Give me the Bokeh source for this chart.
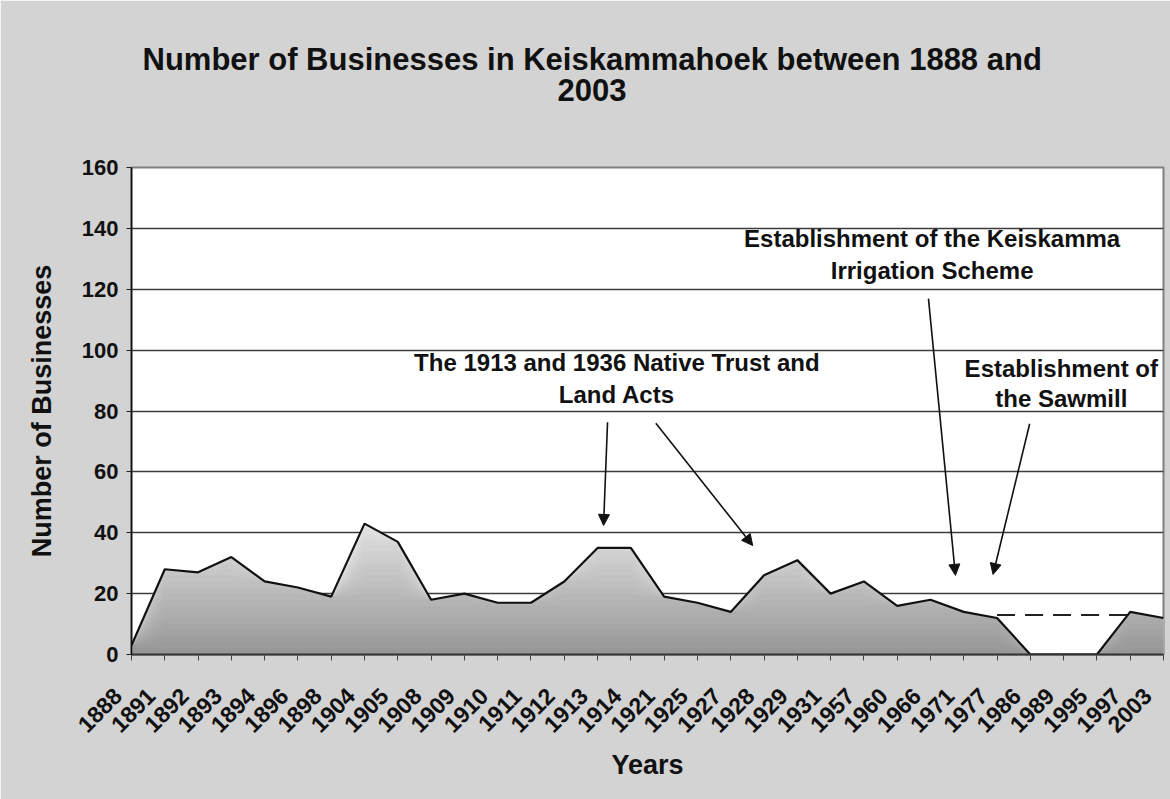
import numpy as np
from math import pi
from bokeh.plotting import figure
from bokeh.models import Range1d, FixedTicker, Label, Arrow, NormalHead, Title
from bokeh.embed import file_html
from bokeh.resources import INLINE

# ---- data ----
years = ["1888", "1891", "1892", "1893", "1894", "1896", "1898", "1904", "1905",
         "1908", "1909", "1910", "1911", "1912", "1913", "1914", "1921", "1925",
         "1927", "1928", "1929", "1931", "1957", "1960", "1966", "1971", "1977",
         "1986", "1989", "1995", "1997", "2003"]
businesses = [3, 28, 27, 32, 24, 22, 19, 43, 37, 18, 20, 17, 17, 24, 35, 35, 19,
              17, 14, 26, 31, 20, 24, 16, 18, 14, 12, 0, 0, 0, 14, 12]
gap_years = ["1977", "1997"]
gap_level = [13, 13]
y_ticks = [0, 20, 40, 60, 80, 100, 120, 140, 160]

title_lines = ["Number of Businesses in Keiskammahoek between 1888 and", "2003"]
note_land = ["The 1913 and 1936 Native Trust and", "Land Acts"]
note_irrig = ["Establishment of the Keiskamma", "Irrigation Scheme"]
note_saw = ["Establishment of", "the Sawmill"]

FONT = "Liberation Sans"

x = np.arange(len(years))
v = np.array(businesses, dtype=float)
gx = [years.index(g) for g in gap_years]
n = len(years)

p = figure(width=1170, height=799, output_backend="svg", toolbar_location=None,
           title=None,
           x_range=Range1d(0, n - 1), y_range=Range1d(0, 160),
           min_border_left=131, min_border_right=7, min_border_top=167,
           min_border_bottom=145, background_fill_color="white",
           border_fill_color="#d3d3d3", outline_line_color="#808080",
           outline_line_width=2)

# ---- titles: a blank spacer next to the plot, then the two title lines ----
p.add_layout(Title(text=" ", standoff=63, text_font_size="2px"), "above")
p.add_layout(Title(text=title_lines[1], align="left", offset=426,
                   standoff=0, text_font=FONT, text_font_style="bold",
                   text_font_size="31px", text_color="#111111"), "above")
p.add_layout(Title(text=title_lines[0], align="left", offset=11,
                   standoff=0, text_font=FONT, text_font_style="bold",
                   text_font_size="31px", text_color="#111111"), "above")

# ---- gradient area (bands drawn from lightest/top to darkest/bottom) ----
top_c = np.array([232, 232, 232])
bot_c = np.array([150, 150, 150])
levels = list(range(46, 0, -2))
for i, L in enumerate(levels):
    t = (L - 1) / 46.0
    c = (bot_c + (top_c - bot_c) * t).astype(int)
    col = "#%02x%02x%02x" % tuple(c)
    y2 = v if i == 0 else np.minimum(v, L)
    p.varea(x=x, y1=np.zeros_like(v), y2=y2, fill_color=col, fill_alpha=1.0)

p.line(x, v, line_color="#111111", line_width=2.2)
p.line(gx, gap_level, line_color="#222222", line_width=2, line_dash="18 10")

# ---- grid ----
p.xgrid.visible = False
p.ygrid.ticker = FixedTicker(ticks=y_ticks)
p.ygrid.grid_line_color = "#3c3c3c"
p.ygrid.grid_line_width = 1.3

# ---- x axis ----
NBSP = "\u00a0" * 3  # rotated year labels end a little left of their tick
xa = p.xaxis[0]
xa.ticker = FixedTicker(ticks=list(x))
xa.major_label_overrides = {int(i): yr + NBSP for i, yr in enumerate(years)}
xa.major_label_orientation = pi / 4
xa.major_label_text_font = FONT
xa.major_label_text_font_style = "bold"
xa.major_label_text_font_size = "23px"
xa.major_label_text_color = "#111111"
xa.major_label_standoff = 18
xa.major_tick_out = 6
xa.major_tick_in = 0
xa.minor_tick_line_color = None
xa.major_tick_line_color = "#444444"
xa.axis_line_color = "#333333"
xa.axis_line_width = 2
xa.axis_label = "Years"
xa.axis_label_text_font = FONT
xa.axis_label_text_font_style = "bold"
xa.axis_label_text_font_size = "27px"
xa.axis_label_text_color = "#111111"
xa.axis_label_standoff = 0

# ---- y axis ----
ya = p.yaxis[0]
ya.ticker = FixedTicker(ticks=y_ticks)
ya.major_label_text_font = FONT
ya.major_label_text_font_style = "bold"
ya.major_label_text_font_size = "22px"
ya.major_label_text_color = "#111111"
ya.major_label_standoff = 8
ya.major_tick_out = 5
ya.major_tick_in = 0
ya.minor_tick_line_color = None
ya.major_tick_line_color = "#222222"
ya.axis_line_color = "#111111"
ya.axis_line_width = 1.6
ya.axis_label = "Number of Businesses"
ya.axis_label_text_font = FONT
ya.axis_label_text_font_style = "bold"
ya.axis_label_text_font_size = "27px"
ya.axis_label_text_color = "#111111"
ya.axis_label_standoff = 22


def add_lines(lines, xc, ys, size, align="center"):
    for txt, yy in zip(lines, ys):
        p.add_layout(Label(x=xc, y=yy, text=txt, text_align=align,
                           text_baseline="middle", text_font=FONT,
                           text_font_style="bold", text_font_size=size,
                           text_color="#111111"))


# annotations
add_lines(note_land, 14.58, [95.9, 85.4], "24px")
add_lines(note_irrig, 24.05, [136.7, 126.1], "24px")
add_lines(note_saw, 27.93, [94.0, 84.1], "24px")

arrows = [((14.30, 76.3), (14.18, 42.4)),
          ((15.75, 76.0), (18.66, 35.8)),
          ((23.94, 116.9), (24.75, 26.0)),
          ((26.98, 75.8), (25.88, 26.3))]
for (xs, ys), (xe, ye) in arrows:
    p.add_layout(Arrow(end=NormalHead(size=11, fill_color="#111111",
                                      line_color="#111111", line_width=1),
                       x_start=xs, y_start=ys, x_end=xe, y_end=ye,
                       line_color="#111111", line_width=1.6))

open("out.html", "w").write(file_html(p, INLINE))
